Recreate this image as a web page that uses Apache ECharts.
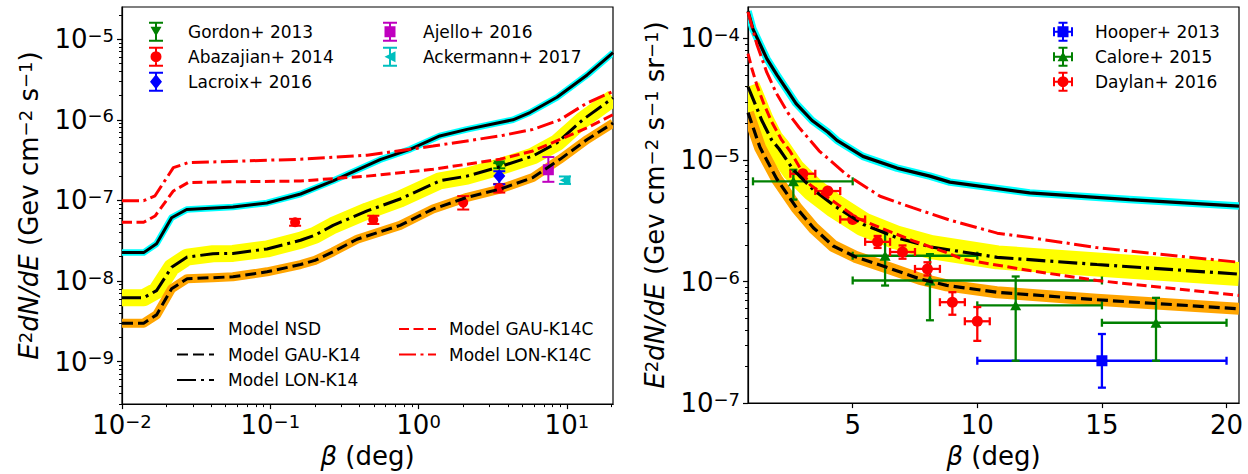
<!DOCTYPE html>
<html><head><meta charset="utf-8">
<script src="https://cdn.jsdelivr.net/npm/echarts@6/dist/echarts.min.js"></script>
<style>html,body{margin:0;padding:0;background:#fff}#c{width:1248px;height:474px}</style>
</head><body><div id="c"></div>
<script>
// ================= LEFT PANEL (log beta) =================
const nsdLX = [0.01, 0.014, 0.0171, 0.0216, 0.0273, 0.056, 0.095, 0.16, 0.265, 0.55, 0.875, 1.39, 2.12, 4.33, 5.64, 8.58, 13.7, 20.5];
const nsdLY = [2.25e-8, 2.25e-8, 2.9e-8, 6.1e-8, 7.7e-8, 8.3e-8, 9.3e-8, 1.2e-7, 1.75e-7, 3.2e-7, 4.3e-7, 6.3e-7, 7.6e-7, 1.0e-6, 1.23e-6, 1.9e-6, 3.6e-6, 6.8e-6];
const gauLX = [0.01, 0.014, 0.0171, 0.0216, 0.0275, 0.041, 0.056, 0.095, 0.16, 0.2, 0.265, 0.385, 0.75, 1.25, 2.12, 3.54, 5.9, 8.98, 13.7, 20.5];
const gauLY = [3.0e-9, 3.0e-9, 3.8e-9, 8.0e-9, 1.07e-8, 1.1e-8, 1.13e-8, 1.3e-8, 1.6e-8, 1.8e-8, 2.3e-8, 3.3e-8, 4.9e-8, 7.8e-8, 1.09e-7, 1.38e-7, 1.92e-7, 3.23e-7, 5.7e-7, 9.1e-7];
const lonLX = [0.01, 0.014, 0.0171, 0.0216, 0.0275, 0.041, 0.056, 0.095, 0.16, 0.2, 0.265, 0.45, 0.75, 1.39, 2.12, 3.38, 5.9, 8.6, 12.8, 20.5];
const lonLY = [6.2e-9, 6.2e-9, 7.6e-9, 1.48e-8, 1.98e-8, 2.18e-8, 2.2e-8, 2.5e-8, 3.2e-8, 3.7e-8, 4.9e-8, 7.4e-8, 1.04e-7, 1.75e-7, 2.0e-7, 2.55e-7, 3.55e-7, 5.2e-7, 1.0e-6, 1.87e-6];
const gauCLX = [0.01, 0.014, 0.0167, 0.0222, 0.028, 0.056, 0.16, 0.45, 1.25, 3.54, 5.9, 8.98, 13.7, 20.5];
const gauCLY = [5.35e-8, 5.35e-8, 6.4e-8, 1.31e-7, 1.67e-7, 1.7e-7, 1.74e-7, 2.0e-7, 2.43e-7, 3.24e-7, 4.1e-7, 5.7e-7, 7.95e-7, 1.16e-6];
const lonCLX = [0.01, 0.014, 0.0167, 0.0222, 0.028, 0.16, 0.45, 1.25, 3.54, 5.9, 8.98, 13.7, 20.5];
const lonCLY = [9.9e-8, 9.9e-8, 1.14e-7, 2.55e-7, 2.94e-7, 3.24e-7, 3.63e-7, 4.72e-7, 6.3e-7, 7.6e-7, 1.0e-6, 1.62e-6, 2.25e-6];

const gordonX = [3.5];  const gordonY = [2.7e-7];  const gordonLo = [2.5e-7];  const gordonHi = [2.9e-7];
const abazX = [0.147, 0.495, 2.0, 3.5];
const abazY = [5.35e-8, 5.76e-8, 9.4e-8, 1.42e-7];
const abazLo = [4.85e-8, 5.1e-8, 7.7e-8, 1.25e-7];
const abazHi = [5.9e-8, 6.45e-8, 1.13e-7, 1.6e-7];
const lacroixX = [3.5]; const lacroixY = [2.0e-7]; const lacroixLo = [1.58e-7]; const lacroixHi = [2.3e-7];
const ajelloX = [7.5];  const ajelloY = [2.4e-7];  const ajelloLo = [1.7e-7];  const ajelloHi = [3.45e-7];
const ackerX = [9.7];   const ackerY = [1.78e-7];  const ackerLo = [1.6e-7];  const ackerHi = [1.98e-7];

// ================= RIGHT PANEL (linear beta) =================
const nsdRX = [0.8, 1.0, 1.28, 1.56, 1.96, 2.36, 2.73, 3.37, 4.01, 4.37, 5.41, 6.78, 8.1, 8.9, 12.1, 16.1, 20.5];
const nsdRY = [1.67e-4, 1.19e-4, 8.98e-5, 6.78e-5, 5.01e-5, 3.78e-5, 2.91e-5, 2.11e-5, 1.69e-5, 1.45e-5, 1.07e-5, 8.57e-6, 7.36e-6, 6.57e-6, 5.36e-6, 4.72e-6, 4.17e-6];
const lonRX = [0.8, 1.08, 1.35, 1.75, 2.05, 2.62, 3.42, 4.3, 5.43, 6.76, 8.1, 10.8, 14.8, 20.5];
const lonRY = [4.0e-5, 2.91e-5, 2.12e-5, 1.46e-5, 1.23e-5, 8.3e-6, 5.7e-6, 4.15e-6, 2.95e-6, 2.3e-6, 1.93e-6, 1.58e-6, 1.38e-6, 1.15e-6];
const gauRX = [0.8, 1.28, 1.95, 2.75, 3.42, 4.22, 5.1, 6.5, 7.7, 8.77, 10.78, 14.79, 20.5];
const gauRY = [2.45e-5, 1.27e-5, 7.0e-6, 4.03e-6, 2.77e-6, 1.96e-6, 1.6e-6, 1.28e-6, 1.05e-6, 9.3e-7, 8.17e-7, 7.08e-7, 5.97e-7];
const gauCRX = [0.8, 0.96, 1.16, 1.43, 1.75, 2.15, 2.5, 3.29, 4.22, 5.16, 6.1, 7.43, 8.77, 9.44, 12.1, 14.8, 20.5];
const gauCRY = [7.5e-5, 5.6e-5, 4.1e-5, 2.91e-5, 2.06e-5, 1.46e-5, 1.17e-5, 6.25e-6, 4.58e-6, 3.34e-6, 2.77e-6, 2.16e-6, 1.73e-6, 1.52e-6, 1.23e-6, 1.02e-6, 7.68e-7];
const lonCRX = [0.8, 1.15, 1.55, 1.95, 2.42, 2.85, 3.65, 4.76, 6.1, 7.43, 8.9, 10.8, 12.1, 14.8, 20.5];
const lonCRY = [1.65e-4, 9.0e-5, 5.27e-5, 3.5e-5, 2.41e-5, 1.85e-5, 1.19e-5, 7.55e-6, 5.03e-6, 4.03e-6, 3.2e-6, 2.5e-6, 2.3e-6, 1.9e-6, 1.44e-6];

const hooperX = [15]; const hooperY = [2.23e-7]; const hooperLo = [1.34e-7]; const hooperHi = [3.7e-7];
const hooperXLo = [10]; const hooperXHi = [20];
const caloreX = [2.62, 6.3, 8.1, 11.54, 17.17];
const caloreY = [6.67e-6, 1.63e-6, 1.02e-6, 6.37e-7, 4.58e-7];
const caloreLo = [4.72e-6, 9.27e-7, 4.8e-7, 2.23e-7, 2.23e-7];
const caloreHi = [8.3e-6, 2.6e-6, 1.68e-6, 1.1e-6, 7.34e-7];
const caloreXLo = [1.0, 5, 5, 10, 15];
const caloreXHi = [5.0, 10, 15, 15, 20];
const daylanX = [3, 4, 5, 6, 7, 8, 9, 10];
const daylanY = [7.7e-6, 5.55e-6, 3.24e-6, 2.12e-6, 1.75e-6, 1.27e-6, 6.76e-7, 4.71e-7];
const daylanLo = [7.4e-6, 5.35e-6, 3.1e-6, 1.89e-6, 1.54e-6, 1.12e-6, 5.33e-7, 3.25e-7];
const daylanHi = [8.0e-6, 5.75e-6, 3.4e-6, 2.37e-6, 1.98e-6, 1.44e-6, 8.17e-7, 6.17e-7];
const daylanXLo = [2.5, 3.5, 4.5, 5.5, 6.5, 7.5, 8.5, 9.5];
const daylanXHi = [3.5, 4.5, 5.5, 6.5, 7.5, 8.5, 9.5, 10.5];

// tick values
const leftXMajor = [0.01, 0.1, 1, 10];
const leftYMajor = [1e-9, 1e-8, 1e-7, 1e-6, 1e-5];
const rightXMajor = [5, 10, 15, 20];
const rightYMajor = [1e-7, 1e-6, 1e-5, 1e-4];

// axis ranges
const LX_MIN = 0.01, LX_MAX = Math.pow(10, 1.311);
const LY_MIN = Math.pow(10, -9.527), LY_MAX = Math.pow(10, -4.601);
const RX_MIN = 0.8, RX_MAX = 20.5;
const RY_MIN = 1e-7, RY_MAX = Math.pow(10, -3.742);

function minorTicks(lo, hi) {
  const out = [];
  for (let e = -11; e <= 2; e++) for (let m = 2; m <= 9; m++) {
    const v = m * Math.pow(10, e);
    if (v >= lo && v <= hi) out.push(v);
  }
  return out;
}

const FONT = 'DejaVu Sans';
const pairs = (xs, ys) => xs.map((x, i) => [x, ys[i]]);
const errRows = (xs, ys, lo, hi, xlo, xhi) => xs.map((x, i) => [x, ys[i], lo[i], hi[i], xlo ? xlo[i] : x, xhi ? xhi[i] : x]);

function pow10Label(v) {
  const e = Math.round(Math.log10(v));
  return '{b|10}{s|' + (e < 0 ? '\u2212' : '') + Math.abs(e) + '}';
}
const tickRich = { b: { fontSize: 26, fontFamily: FONT, color: '#000' }, s: { fontSize: 18, fontFamily: FONT, color: '#000', verticalAlign: 'top' } };
const axLine = { show: true, onZero: false, lineStyle: { color: '#000', width: 1.2 } };
const tickStyle = { color: '#000', width: 1.2 };

function majorLog(grid, min, max, ticks, extra) {
  return Object.assign({
    gridIndex: grid, type: 'log', logBase: 10, min: min, max: max,
    axisLine: axLine, splitLine: { show: false },
    axisTick: { show: true, length: 5, lineStyle: tickStyle, customValues: ticks },
    axisLabel: { customValues: ticks, formatter: pow10Label, rich: tickRich, margin: 8, color: '#000' }
  }, extra);
}
function minorLog(grid, min, max, pos) {
  return {
    gridIndex: grid, type: 'log', logBase: 10, min: min, max: max, position: pos, offset: 0,
    axisLine: { show: false }, splitLine: { show: false },
    axisTick: { show: true, length: 3, lineStyle: { color: '#000', width: 1 }, customValues: minorTicks(min, max) },
    axisLabel: { show: false }
  };
}

const nameStyle = {
  fontSize: 26, fontFamily: FONT, color: '#000',
  rich: {
    i: { fontSize: 26, fontFamily: FONT, fontStyle: 'italic', color: '#000' },
    s: { fontSize: 18, fontFamily: FONT, color: '#000', verticalAlign: 'top' }
  }
};

// uncertainty band drawn as a thick polyline through the axes' scales, clipped to the grid
function band(xs, ys, color, width, xi, yi) {
  return {
    type: 'custom', name: 'band', xAxisIndex: xi, yAxisIndex: yi, data: [[xs[0], ys[0]]], silent: true, clip: true,
    encode: { x: 0, y: 1 },
    renderItem: function (params, api) {
      const pts = xs.map((x, i) => api.coord([x, ys[i]]));
      return { type: 'polyline', shape: { points: pts }, style: { stroke: color, lineWidth: width, fill: null, lineJoin: 'round', lineCap: 'butt' } };
    }
  };
}
function model(name, xs, ys, color, width, dash, xi, yi) {
  return { type: 'line', name: name, xAxisIndex: xi, yAxisIndex: yi, data: pairs(xs, ys), symbol: 'none', silent: true,
    lineStyle: { color: color, width: width, type: dash }, itemStyle: { color: color } };
}
function errSeries(rows, color, lw, capHalf, xi, yi) {
  return {
    type: 'custom', name: 'err', xAxisIndex: xi, yAxisIndex: yi, data: rows, silent: true,
    encode: { x: 0, y: 1 },
    renderItem: function (params, api) {
      const x = api.value(0), y = api.value(1);
      const c = api.coord([x, y]);
      const a = api.coord([x, api.value(2)]), b = api.coord([x, api.value(3)]);
      const st = () => ({ stroke: color, lineWidth: lw, fill: null });
      const ch = [
        { type: 'line', shape: { x1: c[0], y1: a[1], x2: c[0], y2: b[1] }, style: st() },
        { type: 'line', shape: { x1: c[0] - capHalf, y1: a[1], x2: c[0] + capHalf, y2: a[1] }, style: st() },
        { type: 'line', shape: { x1: c[0] - capHalf, y1: b[1], x2: c[0] + capHalf, y2: b[1] }, style: st() }
      ];
      const xl = api.value(4), xh = api.value(5);
      if (xl !== xh) {
        const l = api.coord([xl, y]), r = api.coord([xh, y]);
        ch.push({ type: 'line', shape: { x1: l[0], y1: c[1], x2: r[0], y2: c[1] }, style: st() });
        ch.push({ type: 'line', shape: { x1: l[0], y1: c[1] - capHalf, x2: l[0], y2: c[1] + capHalf }, style: st() });
        ch.push({ type: 'line', shape: { x1: r[0], y1: c[1] - capHalf, x2: r[0], y2: c[1] + capHalf }, style: st() });
      }
      return { type: 'group', children: ch };
    }
  };
}
function marker(name, xs, ys, symbol, size, color, xi, yi) {
  return { type: 'scatter', name: name, xAxisIndex: xi, yAxisIndex: yi, data: pairs(xs, ys), symbol: symbol, symbolSize: size,
    silent: true, itemStyle: { color: color, opacity: 1 } };
}

// legend icons (paths): error bar with caps + marker
const CAPS_V = 'M0,0 H14 V2 H0 Z M6,0 H8 V20 H6 Z M0,18 H14 V20 H0 Z ';
const IC_GORDON = 'path://' + CAPS_V + 'M1.5,5 L12.5,5 L7,14.5 Z';
const IC_ABAZ = 'path://' + CAPS_V + 'M7,4.5 A5.5,5.5 0 1 1 7,15.5 A5.5,5.5 0 1 1 7,4.5 Z';
const IC_LACROIX = 'path://' + CAPS_V + 'M7,2.5 L13,10 L7,17.5 L1,10 Z';
const IC_AJELLO = 'path://' + CAPS_V + 'M1.5,4.5 H12.5 V15.5 H1.5 Z';
const IC_ACKER = 'path://' + CAPS_V + 'M1.5,10 L12.5,4.5 L12.5,15.5 Z';
const CAPS_X = 'M0,9 H20 V11 H0 Z M0,5.5 H2 V14.5 H0 Z M18,5.5 H20 V14.5 H18 Z M9,0 H11 V20 H9 Z M5.5,0 H14.5 V2 H5.5 Z M5.5,18 H14.5 V20 H5.5 Z ';
const IC_HOOPER = 'path://' + CAPS_X + 'M4.5,4.5 H15.5 V15.5 H4.5 Z';
const IC_CALORE = 'path://' + CAPS_X + 'M4.5,14.5 L10,5 L15.5,14.5 Z';
const IC_DAYLAN = 'path://' + CAPS_X + 'M10,4.5 A5.5,5.5 0 1 1 10,15.5 A5.5,5.5 0 1 1 10,4.5 Z';

const GREEN = '#008000', RED = '#ff0000', BLUE = '#0000ff', MAG = '#bf00bf', CYANM = '#00bfbf';
const DASH = [11, 5], DASHDOT = [19, 5, 3, 5], RDASH = [10, 4.5], RDASHDOT = [17, 4.5, 3, 4.5];

function legendBox(data, left, top, iw, ih, gap, pad, hideSymbol) {
  const l = { data: data, left: left, top: top, orient: 'vertical', itemWidth: iw, itemHeight: ih, itemGap: gap, padding: 0,
    selectedMode: false, textStyle: { fontSize: 17, fontFamily: FONT, color: '#000', lineHeight: 20, padding: [0, 0, 0, pad] } };
  if (hideSymbol) l.itemStyle = { opacity: 0 };
  return l;
}

const option = {
  animation: false,
  backgroundColor: '#fff',
  textStyle: { fontFamily: FONT },
  grid: [
    { left: 122, top: 7, width: 491, height: 399, show: true, borderColor: '#000', borderWidth: 1.2, backgroundColor: 'transparent' },
    { left: 748, top: 7, width: 491, height: 399, show: true, borderColor: '#000', borderWidth: 1.2, backgroundColor: 'transparent' }
  ],
  xAxis: [
    majorLog(0, LX_MIN, LX_MAX, leftXMajor, { position: 'bottom', name: '{i|\u03b2} (deg)', nameLocation: 'middle', nameGap: 38, nameTextStyle: nameStyle }),
    minorLog(0, LX_MIN, LX_MAX, 'bottom'),
    { gridIndex: 1, type: 'value', min: RX_MIN, max: RX_MAX, position: 'bottom',
      axisLine: axLine, splitLine: { show: false },
      axisTick: { show: true, length: 5, lineStyle: tickStyle, customValues: rightXMajor },
      axisLabel: { customValues: rightXMajor, fontSize: 26, fontFamily: FONT, color: '#000', margin: 9 },
      name: '{i|\u03b2} (deg)', nameLocation: 'middle', nameGap: 38, nameTextStyle: nameStyle }
  ],
  yAxis: [
    majorLog(0, LY_MIN, LY_MAX, leftYMajor, { position: 'left',
      name: '{i|E}{s|2}{i|dN/dE} (Gev cm{s|\u22122} s{s|\u22121})', nameLocation: 'middle', nameRotate: 90, nameGap: 80,
      nameTextStyle: nameStyle }),
    minorLog(0, LY_MIN, LY_MAX, 'left'),
    majorLog(1, RY_MIN, RY_MAX, rightYMajor, { position: 'left',
      name: '{i|E}{s|2}{i|dN/dE} (Gev cm{s|\u22122} s{s|\u22121} sr{s|\u22121})', nameLocation: 'middle', nameRotate: 90, nameGap: 80,
      nameTextStyle: nameStyle }),
    minorLog(1, RY_MIN, RY_MAX, 'left')
  ],
  legend: [
    legendBox([{ name: 'Gordon+ 2013', icon: IC_GORDON }, { name: 'Abazajian+ 2014', icon: IC_ABAZ }, { name: 'Lacroix+ 2016', icon: IC_LACROIX }], 149, 21.7, 14, 20, 5, 20),
    legendBox([{ name: 'Ajello+ 2016', icon: IC_AJELLO }, { name: 'Ackermann+ 2017', icon: IC_ACKER }], 383, 21.7, 14, 20, 5, 21),
    legendBox(['Model NSD', 'Model GAU-K14', 'Model LON-K14'], 176, 319, 37, 20, 5.5, 9, true),
    legendBox(['Model GAU-K14C', 'Model LON-K14C'], 398, 319, 37, 20, 5.5, 8, true),
    legendBox([{ name: 'Hooper+ 2013', icon: IC_HOOPER }, { name: 'Calore+ 2015', icon: IC_CALORE }, { name: 'Daylan+ 2016', icon: IC_DAYLAN }], 1053, 21.7, 20, 20, 5, 17)
  ],
  series: [
    // ---- left panel ----
    band(nsdLX, nsdLY, '#00ffff', 6.5, 0, 0),
    band(lonLX, lonLY, '#ffff00', 17, 0, 0),
    band(gauLX, gauLY, '#ffa500', 9, 0, 0),
    model('Model NSD', nsdLX, nsdLY, '#000', 3, 'solid', 0, 0),
    model('Model GAU-K14', gauLX, gauLY, '#000', 3, DASH, 0, 0),
    model('Model LON-K14', lonLX, lonLY, '#000', 3, DASHDOT, 0, 0),
    model('Model GAU-K14C', gauCLX, gauCLY, RED, 3, RDASH, 0, 0),
    model('Model LON-K14C', lonCLX, lonCLY, RED, 3, RDASHDOT, 0, 0),
    errSeries(errRows(abazX, abazY, abazLo, abazHi), RED, 2, 6, 0, 0),
    marker('Abazajian+ 2014', abazX, abazY, 'circle', 10, RED, 0, 0),
    errSeries(errRows(lacroixX, lacroixY, lacroixLo, lacroixHi), BLUE, 2, 6, 0, 0),
    marker('Lacroix+ 2016', lacroixX, lacroixY, 'diamond', [12, 14], BLUE, 0, 0),
    errSeries(errRows(gordonX, gordonY, gordonLo, gordonHi), GREEN, 2, 6, 0, 0),
    marker('Gordon+ 2013', gordonX, gordonY, 'path://M0,0 L10,0 L5,9 Z', [12, 10], GREEN, 0, 0),
    errSeries(errRows(ajelloX, ajelloY, ajelloLo, ajelloHi), MAG, 2, 6, 0, 0),
    marker('Ajello+ 2016', ajelloX, ajelloY, 'rect', 11, MAG, 0, 0),
    errSeries(errRows(ackerX, ackerY, ackerLo, ackerHi), CYANM, 2, 6, 0, 0),
    marker('Ackermann+ 2017', ackerX, ackerY, 'path://M0,5 L10,0 L10,10 Z', [11, 10], CYANM, 0, 0),
    // ---- right panel ----
    band(nsdRX, nsdRY, '#00ffff', 7.5, 2, 2),
    band(lonRX, lonRY, '#ffff00', 24, 2, 2),
    band(gauRX, gauRY, '#ffa500', 12, 2, 2),
    model('NSD', nsdRX, nsdRY, '#000', 3.2, 'solid', 2, 2),
    model('GAU-K14', gauRX, gauRY, '#000', 3.2, DASH, 2, 2),
    model('LON-K14', lonRX, lonRY, '#000', 3.2, DASHDOT, 2, 2),
    model('GAU-K14C', gauCRX, gauCRY, RED, 3, RDASH, 2, 2),
    model('LON-K14C', lonCRX, lonCRY, RED, 3, RDASHDOT, 2, 2),
    errSeries(errRows(hooperX, hooperY, hooperLo, hooperHi, hooperXLo, hooperXHi), BLUE, 2.3, 4, 2, 2),
    marker('Hooper+ 2013', hooperX, hooperY, 'rect', 11, BLUE, 2, 2),
    errSeries(errRows(caloreX, caloreY, caloreLo, caloreHi, caloreXLo, caloreXHi), GREEN, 2.3, 4, 2, 2),
    marker('Calore+ 2015', caloreX, caloreY, 'triangle', [11, 10], GREEN, 2, 2),
    errSeries(errRows(daylanX, daylanY, daylanLo, daylanHi, daylanXLo, daylanXHi), RED, 2.3, 4, 2, 2),
    marker('Daylan+ 2016', daylanX, daylanY, 'circle', 11, RED, 2, 2)
  ]
};

const chart = echarts.init(document.getElementById('c'), null, { renderer: 'svg' });
chart.setOption(option);
</script>
</body></html>
